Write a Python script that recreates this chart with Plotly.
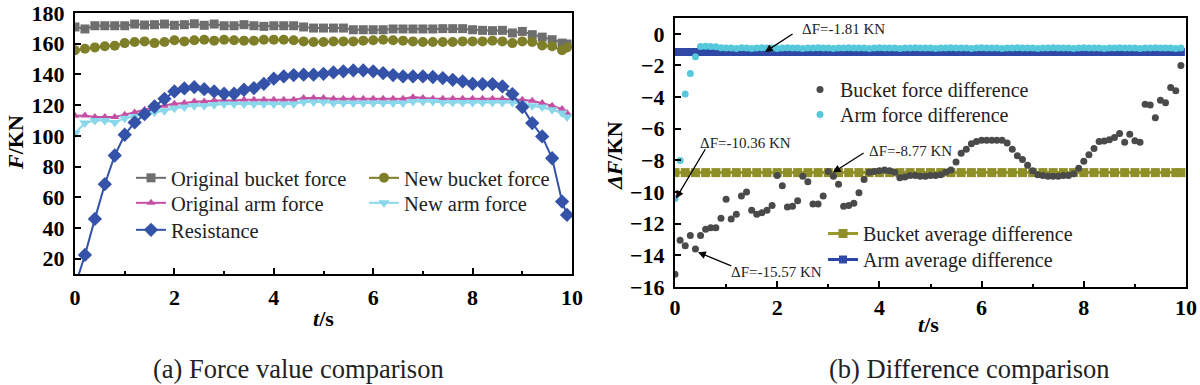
import plotly.graph_objects as go

# ---------------- data: panel (a) ----------------
t_a = [0.0, 0.2, 0.4, 0.6, 0.8, 1.0, 1.2, 1.4, 1.6, 1.8, 2.0, 2.2, 2.4, 2.6, 2.8, 3.0, 3.2, 3.4, 3.6, 3.8,
       4.0, 4.2, 4.4, 4.6, 4.8, 5.0, 5.2, 5.4, 5.6, 5.8, 6.0, 6.2, 6.4, 6.6, 6.8, 7.0, 7.2, 7.4, 7.6, 7.8,
       8.0, 8.2, 8.4, 8.6, 8.8, 9.0, 9.2, 9.4, 9.6, 9.8, 9.9]

orig_bucket = [170.9, 169.6, 171.7, 171.7, 171.7, 171.7, 172.8, 172.2, 172.4, 172.8, 172.0, 172.4, 173.0, 172.0,
               172.8, 171.7, 171.7, 172.4, 171.7, 171.3, 171.7, 171.7, 171.7, 170.9, 170.2, 170.2, 170.2, 170.2,
               169.1, 169.1, 169.1, 169.1, 169.6, 169.6, 169.6, 169.6, 169.6, 169.8, 169.8, 169.8, 169.1, 168.7,
               168.5, 168.7, 167.0, 168.0, 165.9, 164.3, 162.6, 160.4, 159.8]

new_bucket = [155.7, 156.7, 157.6, 158.3, 158.7, 160.4, 161.1, 161.5, 160.4, 161.1, 162.2, 161.5, 162.2, 162.6,
              162.0, 162.6, 162.2, 162.0, 162.0, 162.6, 162.6, 162.6, 162.2, 161.5, 161.1, 161.1, 161.5, 161.5,
              161.5, 162.0, 162.2, 162.6, 162.2, 162.0, 161.5, 161.1, 161.1, 161.1, 161.1, 161.5, 161.5, 161.5,
              162.0, 161.5, 160.4, 161.5, 161.1, 158.9, 158.3, 155.7, 157.6]

orig_arm = [113.0, 113.3, 112.2, 112.2, 112.2, 113.7, 115.2, 117.0, 118.7, 119.6, 120.9, 121.3, 122.4, 122.4,
            123.0, 123.0, 123.0, 123.5, 123.5, 123.5, 123.5, 123.5, 123.5, 124.6, 124.6, 124.6, 124.1, 124.1,
            124.1, 124.1, 124.1, 124.1, 124.1, 124.1, 125.2, 124.6, 124.1, 124.1, 124.1, 124.1, 124.1, 124.1,
            124.1, 124.1, 123.5, 123.5, 122.8, 121.3, 119.6, 117.4, 114.8]

new_arm = [101.7, 108.3, 110.0, 110.0, 108.7, 111.5, 112.6, 114.1, 115.4, 116.3, 118.0, 118.7, 119.6, 119.6,
           120.2, 120.7, 120.7, 120.7, 120.7, 120.7, 120.7, 120.7, 120.7, 122.0, 122.0, 122.0, 121.3, 121.3,
           121.3, 121.3, 121.3, 121.3, 121.3, 121.3, 122.4, 122.4, 122.4, 121.7, 121.7, 121.7, 121.7, 121.7,
           121.7, 121.7, 121.7, 120.9, 119.6, 118.7, 117.0, 114.8, 112.2]

resistance = [2.0, 22.4, 45.9, 68.5, 87.2, 100.7, 108.7, 114.1, 119.1, 124.1, 128.9, 130.9, 131.7, 130.4,
              128.9, 127.4, 127.4, 130.0, 131.1, 133.9, 137.2, 138.7, 139.6, 139.8, 139.8, 140.4, 141.3, 142.0,
              142.6, 142.6, 142.0, 140.9, 139.6, 138.7, 138.7, 138.7, 138.3, 137.6, 136.5, 135.4, 133.9, 133.7,
              133.7, 132.2, 127.2, 118.7, 108.3, 99.6, 85.4, 57.2, 48.5]

# ---------------- data: panel (b) ----------------
t_b = [0.0, 0.1, 0.2, 0.3, 0.4, 0.5, 0.6, 0.7, 0.8, 0.9, 1.0, 1.1, 1.2, 1.3, 1.4, 1.5, 1.6, 1.7, 1.8, 1.9,
       2.0, 2.1, 2.2, 2.3, 2.4, 2.5, 2.6, 2.7, 2.8, 2.9, 3.0, 3.1, 3.2, 3.3, 3.4, 3.5, 3.6, 3.7, 3.8, 3.9,
       4.0, 4.1, 4.2, 4.3, 4.4, 4.5, 4.6, 4.7, 4.8, 4.9, 5.0, 5.1, 5.2, 5.3, 5.4, 5.5, 5.6, 5.7, 5.8, 5.9,
       6.0, 6.1, 6.2, 6.3, 6.4, 6.5, 6.6, 6.7, 6.8, 6.9, 7.0, 7.1, 7.2, 7.3, 7.4, 7.5, 7.6, 7.7, 7.8, 7.9,
       8.0, 8.1, 8.2, 8.3, 8.4, 8.5, 8.6, 8.7, 8.8, 8.9, 9.0, 9.1, 9.2, 9.3, 9.4, 9.5, 9.6, 9.7, 9.8, 9.9]

bucket_diff = [-15.2, -13.05, -13.4, -12.75, -13.6, -12.75, -12.35, -12.25, -12.25, -11.65,
               -10.45, -11.7, -11.4, -10.25, -10.0, -11.15, -11.4, -11.3, -11.15, -10.85,
               -8.95, -9.6, -10.95, -10.9, -10.55, -9.0, -9.35, -10.75, -10.75, -10.25,
               -8.7, -9.0, -9.5, -10.9, -10.85, -10.7, -10.05, -9.2, -8.75, -8.7,
               -8.65, -8.6, -8.65, -8.75, -9.1, -9.05, -8.95, -8.95, -9.0, -9.0,
               -8.95, -8.95, -8.9, -8.75, -8.6, -8.1, -7.55, -7.3, -6.95, -6.8,
               -6.73, -6.72, -6.72, -6.72, -6.73, -6.9, -7.3, -7.7, -7.95, -8.3,
               -8.65, -8.9, -8.95, -9.0, -9.0, -9.0, -8.95, -8.95, -8.85, -8.5,
               -8.05, -7.65, -7.25, -6.8, -6.78, -6.7, -6.55, -6.3, -6.85, -6.35,
               -6.75, -6.85, -4.45, -4.5, -5.3, -4.2, -4.35, -3.4, -3.6, -2.0]

arm_diff = [-10.4, -8.0, -3.8, -2.5, -1.45, -0.8, -0.78, -0.8, -0.82, -0.88,
            -0.9, -0.9, -0.92, -0.88, -0.9, -0.92, -0.9, -0.88, -0.9, -0.9,
            -0.92, -0.9, -0.88, -0.9, -0.9, -0.92, -0.9, -0.9, -0.88, -0.9,
            -0.9, -0.92, -0.9, -0.9, -0.88, -0.9, -0.9, -0.9, -0.92, -0.9,
            -0.88, -0.9, -0.9, -0.9, -0.92, -0.9, -0.9, -0.88, -0.9, -0.9,
            -0.9, -0.92, -0.9, -0.9, -0.88, -0.9, -0.9, -0.9, -0.92, -0.9,
            -0.88, -0.9, -0.9, -0.9, -0.92, -0.9, -0.9, -0.88, -0.9, -0.9,
            -0.9, -0.92, -0.9, -0.9, -0.88, -0.9, -0.9, -0.9, -0.92, -0.9,
            -0.88, -0.9, -0.9, -0.9, -0.92, -0.9, -0.9, -0.88, -0.9, -0.9,
            -0.9, -0.92, -0.9, -0.9, -0.88, -0.9, -0.9, -0.9, -0.92, -0.9]

bucket_avg = [-8.77] * len(t_a)
arm_avg = [-1.15] * len(t_b)

# ---------------- figure ----------------
SERIF = "Liberation Serif"
W, H = 1200, 385


def px(x):
    return x / W


def py(y):
    return 1 - y / H


fig = go.Figure()

# panel (a)
fig.add_trace(go.Scatter(x=t_a, y=orig_bucket, name="Original bucket force", mode="lines+markers",
                         line=dict(color="#6e6e6e", width=2), marker=dict(symbol="square", size=9, color="#6e6e6e"),
                         legend="legend", showlegend=True))
fig.add_trace(go.Scatter(x=t_a, y=new_bucket, name="New bucket force", mode="lines+markers",
                         line=dict(color="#7f7f2a", width=2), marker=dict(symbol="circle", size=10, color="#7f7f2a"),
                         legend="legend2", showlegend=True))
fig.add_trace(go.Scatter(x=t_a, y=orig_arm, name="Original arm force", mode="lines+markers",
                         line=dict(color="#c450a4", width=2), marker=dict(symbol="triangle-up", size=8, color="#c450a4"),
                         legend="legend3", showlegend=True))
fig.add_trace(go.Scatter(x=t_a, y=new_arm, name="New arm force", mode="lines+markers",
                         line=dict(color="#8ad6ea", width=2), marker=dict(symbol="triangle-down", size=10, color="#8ad6ea"),
                         legend="legend4", showlegend=True))
fig.add_trace(go.Scatter(x=t_a, y=resistance, name="Resistance", mode="lines+markers",
                         line=dict(color="#3352a8", width=2), marker=dict(symbol="diamond", size=11, color="#3352a8"),
                         legend="legend5", showlegend=True))

# panel (b)
fig.add_trace(go.Scatter(x=t_a, y=bucket_avg, name="Bucket average difference", mode="lines+markers",
                         xaxis="x2", yaxis="y2",
                         line=dict(color="#9a9a2a", width=3), marker=dict(symbol="square", size=9, color="#8f8f2a"),
                         legend="legend8", showlegend=True))
fig.add_trace(go.Scatter(x=t_b, y=arm_avg, name="Arm average difference", mode="lines+markers",
                         xaxis="x2", yaxis="y2",
                         line=dict(color="#2a44a8", width=3), marker=dict(symbol="square", size=8, color="#2f48a6"),
                         legend="legend9", showlegend=True))
fig.add_trace(go.Scatter(x=t_b, y=bucket_diff, name="Bucket force difference", mode="markers",
                         xaxis="x2", yaxis="y2",
                         marker=dict(symbol="circle", size=7, color="#4a4a4a"),
                         legend="legend6", showlegend=True))
fig.add_trace(go.Scatter(x=t_b, y=arm_diff, name="Arm force difference", mode="markers",
                         xaxis="x2", yaxis="y2",
                         marker=dict(symbol="circle", size=7, color="#55c8dc"),
                         legend="legend7", showlegend=True))

axis_common = dict(showline=True, linecolor="black", linewidth=2, mirror=True, ticks="inside",
                   ticklen=6, tickwidth=2, tickcolor="black", showgrid=False, zeroline=False,
                   tickfont=dict(family=SERIF, size=22, color="black", weight="bold"),
                   automargin=False)

fig.update_layout(
    width=W, height=H, margin=dict(l=0, r=0, t=0, b=0),
    paper_bgcolor="white", plot_bgcolor="white", showlegend=True,
    font=dict(family=SERIF, color="black"),
    xaxis=dict(domain=[px(75), px(572)], range=[0, 10], dtick=2, anchor="y",
               minor=dict(ticks="inside", dtick=1, ticklen=3, tickwidth=2, tickcolor="black"),
               ticklabelstandoff=3, **axis_common),
    yaxis=dict(domain=[py(274), py(13)], range=[10, 180], dtick=20, anchor="x",
               ticklabelstandoff=4, **axis_common),
    xaxis2=dict(domain=[px(675), px(1186)], range=[0, 10], dtick=2, anchor="y2",
                minor=dict(ticks="inside", dtick=1, ticklen=3, tickwidth=2, tickcolor="black"),
                ticklabelstandoff=0, **axis_common),
    yaxis2=dict(domain=[py(287), py(18)], range=[-16, 1], dtick=2, anchor="x2",
                ticklabelstandoff=4, **axis_common),
)


def leg(x, y, size):
    return dict(x=px(x), y=py(y), bgcolor="rgba(0,0,0,0)", borderwidth=0, visible=True,
                font=dict(family=SERIF, size=size, color="#222"),
                xanchor="left", yanchor="top", orientation="v", tracegroupgap=0, itemwidth=30)


# one legend per row so each row sits where the reference puts it
fig.update_layout(
    legend=leg(131, 158, 20.5),
    legend3=leg(131, 183, 20.5),
    legend5=leg(131, 210, 20.5),
    legend2=leg(364, 158, 20.5),
    legend4=leg(364, 183, 20.5),
    legend6=leg(800, 70, 20),
    legend7=leg(800, 95, 20),
    legend8=leg(823, 214, 20),
    legend9=leg(823, 240, 20),
)

ann = []


def paper_text(text, x, y, size, angle=0, color="black"):
    return dict(text=text, x=px(x), y=py(y), xref="paper", yref="paper", xanchor="center", yanchor="middle",
                showarrow=False, textangle=angle, font=dict(family=SERIF, size=size, color=color))


# axis titles
ann.append(paper_text("<b><i>t</i>/s</b>", 323, 318, 22))
ann.append(paper_text("<b><i>t</i>/s</b>", 928, 324, 22))
ann.append(paper_text("<b><i>F</i>/KN</b>", 15, 143, 22, angle=-90))
ann.append(paper_text("<b><i>ΔF</i>/KN</b>", 614, 156, 22, angle=-90))
# captions
ann.append(paper_text("(a) Force value comparison", 298, 369, 26.5, color="#222"))
ann.append(paper_text("(b) Difference comparison", 969, 369, 26.5, color="#222"))

# callouts (arrows point at plotted values)
callouts = [
    ("ΔF=-1.81 KN", 2.45, 0.3, 2.33, 0.05, 1.76, arm_avg[17]),
    ("ΔF=-10.36 KN", 0.45, -6.9, 0.61, -7.2, t_b[0] + 0.02, arm_diff[0]),
    ("ΔF=-8.77 KN", 3.76, -7.4, 3.72, -7.47, 3.09, bucket_avg[15]),
    ("ΔF=-15.57 KN", 1.06, -15.05, 1.13, -14.7, t_b[4] + 0.05, bucket_diff[4] - 0.2),
]
for text, tx, ty, ax, ay, hx, hy in callouts:
    ann.append(dict(text=text, x=tx, y=ty, xref="x2", yref="y2", xanchor="left", yanchor="middle",
                    showarrow=False, font=dict(family=SERIF, size=15, color="#222")))
    ann.append(dict(text="", x=hx, y=hy, xref="x2", yref="y2", ax=ax, ay=ay, axref="x2", ayref="y2",
                    showarrow=True, arrowhead=2, arrowsize=1.2, arrowwidth=1.3, arrowcolor="black", standoff=0))
fig.update_layout(annotations=ann)

fig.write_html("out.html", config={"displayModeBar": False},
               post_script="document.body.style.margin='0px';")
